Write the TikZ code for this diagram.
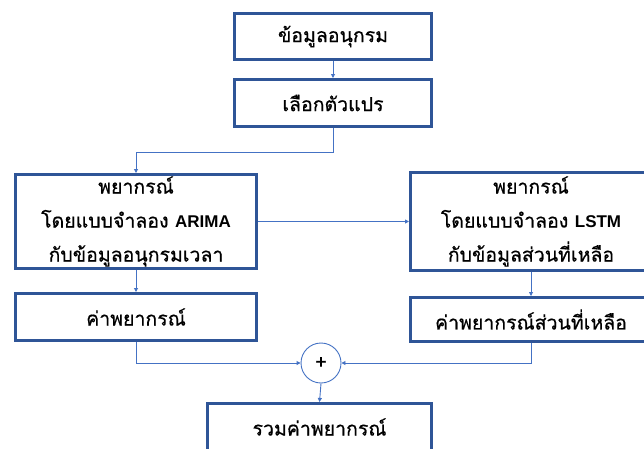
\documentclass[tikz,border=0pt]{standalone}
\usepackage{fontspec}
\newfontfamily\thaifont[Script=Thai, FakeBold=0.6]{Loma}
\newfontfamily\latinb{Liberation Sans}
\usetikzlibrary{arrows.meta}
\definecolor{boxblue}{HTML}{2F5597}
\definecolor{lineblue}{HTML}{4472C4}
\begin{document}
\begin{tikzpicture}[x=1pt,y=-1pt,
  font=\thaifont\fontsize{19.5}{34}\selectfont,
  box/.style={draw=boxblue, line width=3pt, fill=white, inner sep=0pt, align=center, text=black},
  conn/.style={draw=lineblue, line width=0.9pt, -{Triangle[length=4pt,width=4pt]}},
  plusnode/.style={circle, draw=lineblue, line width=0.9pt, minimum size=40pt, inner sep=0pt, fill=white}]
\useasboundingbox (0,0) rectangle (644,448);
\clip (0,0) rectangle (644,448);
\node[box, minimum width=197pt, minimum height=46pt] (b1) at (333,36.5) {ข้อมูลอนุกรม};
\node[box, minimum width=197pt, minimum height=47pt] (b2) at (333,103) {เลือกตัวแปร};
\node[box, minimum width=241pt, minimum height=94pt] (b3) at (136,221.5) {พยากรณ์\\โดยแบบจำลอง {\latinb\bfseries\fontsize{17}{34}\selectfont ARIMA}\\กับข้อมูลอนุกรมเวลา};
\node[box, minimum width=241pt, minimum height=47pt] (b4) at (136,317) {ค่าพยากรณ์};
\node[box, minimum width=241pt, minimum height=98pt] (b5) at (531,221.5) {พยากรณ์\\โดยแบบจำลอง {\latinb\bfseries\fontsize{17}{34}\selectfont LSTM}\\กับข้อมูลส่วนที่เหลือ};
\node[box, minimum width=241pt, minimum height=44pt] (b6) at (531,319.5) {ค่าพยากรณ์ส่วนที่เหลือ};
\node[box, minimum width=224pt, minimum height=47pt] (b7) at (319.5,427) {รวมค่าพยากรณ์};
\node[plusnode] (plus) at (321,363) {\fontsize{20}{20}\selectfont +};
\coordinate (j) at (333,152);
\draw[conn] (b1.south) -- (b2.north);
\draw[conn] (b2.south) -- (j) -| (b3.north);
\draw[conn] (b3.east) -- (b5.west);
\draw[conn] (b3.south) -- (b4.north);
\draw[conn] (b5.south) -- (b6.north);
\draw[conn] (b4.south) |- (plus.west);
\draw[conn] (b6.south) |- (plus.east);
\draw[conn] (plus.south) -- (b7.north);
\end{tikzpicture}
\end{document}
